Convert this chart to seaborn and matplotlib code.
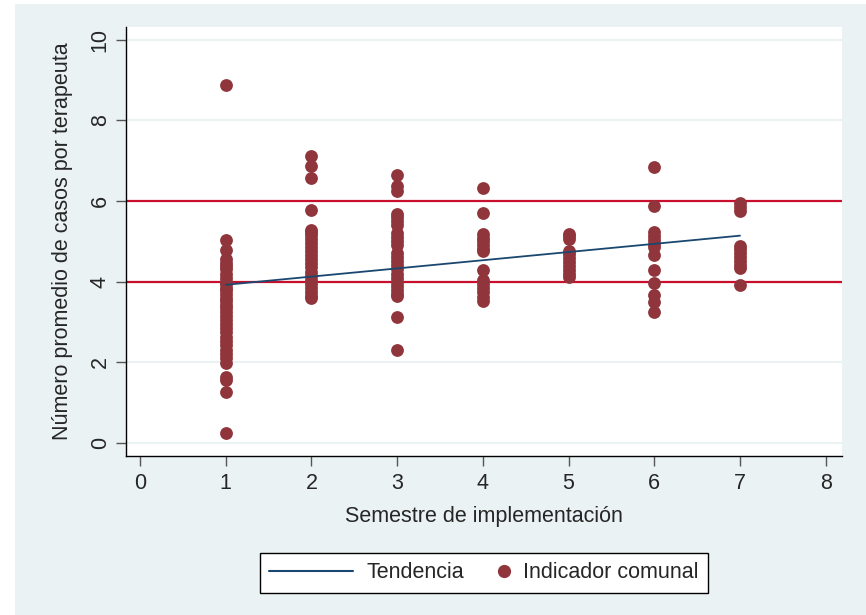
import matplotlib
matplotlib.use("Agg")
import matplotlib.pyplot as plt
import seaborn as sns
import pandas as pd
from matplotlib.lines import Line2D
from matplotlib.legend_handler import HandlerLine2D
from matplotlib.patches import Rectangle

# ---- data ----
semestres = [1, 2, 3, 4, 5, 6, 7]
sem1 = [8.88, 5.04, 4.79, 4.55, 4.45, 4.38, 4.30, 4.20, 4.08, 4.00, 3.93, 3.85, 3.78, 3.70,
        3.60, 3.52, 3.42, 3.35, 3.25, 3.15, 3.05, 2.95, 2.85, 2.75, 2.63, 2.52, 2.42, 2.30,
        2.20, 2.10, 1.98, 1.62, 1.55, 1.27, 0.23]
sem2 = [7.12, 6.88, 6.57, 5.77, 5.28, 5.22, 5.15, 5.05, 4.95, 4.85, 4.75, 4.65, 4.55, 4.45,
        4.35, 4.25, 4.15, 4.05, 3.95, 3.85, 3.75, 3.65, 3.58]
sem3 = [6.64, 6.37, 6.25, 5.68, 5.60, 5.50, 5.40, 5.20, 5.10, 5.00, 4.92, 4.70, 4.60, 4.50,
        4.40, 4.30, 4.20, 4.10, 4.00, 3.90, 3.80, 3.70, 3.65, 3.12, 2.29]
sem4 = [6.32, 5.70, 5.17, 5.08, 5.00, 4.90, 4.82, 4.75, 4.28, 4.03, 3.93, 3.83, 3.73, 3.62, 3.52]
sem5 = [5.18, 5.12, 5.05, 4.75, 4.68, 4.58, 4.48, 4.38, 4.28, 4.18, 4.12]
sem6 = [6.84, 5.88, 5.22, 5.12, 5.02, 4.93, 4.86, 4.67, 4.29, 3.96, 3.67, 3.50, 3.24]
sem7 = [5.96, 5.85, 5.76, 4.88, 4.80, 4.70, 4.60, 4.50, 4.42, 4.34, 3.92]
trend_x = [1, 7]
trend_y = [3.92, 5.14]
ref_levels = [4, 6]
x_ticks = [0, 1, 2, 3, 4, 5, 6, 7, 8]
y_ticks = [0, 2, 4, 6, 8, 10]

values = [sem1, sem2, sem3, sem4, sem5, sem6, sem7]
df = pd.DataFrame({
    "semestre": [s for s, vals in zip(semestres, values) for _ in vals],
    "valor": [v for vals in values for v in vals],
})
df_trend = pd.DataFrame({"semestre": trend_x, "valor": trend_y})

# ---- style ----
BG = "#EAF2F3"
NAVY = "#1A476F"
MAROON = "#90353B"
RED = "#C8102E"

sns.set_style("white")
plt.rcParams["font.family"] = ["Liberation Sans", "DejaVu Sans"]
FS = 15.5

fig = plt.figure(figsize=(8.66, 6.15), dpi=100, facecolor="white")
fig.patches.append(Rectangle((15 / 866, 0), 1, 1 - 4 / 615, transform=fig.transFigure,
                             facecolor=BG, edgecolor="none", zorder=-10))
ax = fig.add_axes([126 / 866, 1 - 456 / 615, (842 - 126) / 866, (456 - 27) / 615])
ax.set_facecolor("white")

for yv in y_ticks:
    ax.axhline(yv, color=BG, lw=1.5, zorder=0)
for lv in ref_levels:
    ax.axhline(lv, color=RED, lw=1.6, zorder=1)

sns.scatterplot(data=df, x="semestre", y="valor", ax=ax, color=MAROON, s=85,
                linewidth=0, zorder=3, legend=False)
sns.lineplot(data=df_trend, x="semestre", y="valor", ax=ax, color=NAVY, lw=1.3,
             zorder=4, legend=False)

ax.set_xlim(-0.163, 8.19)
ax.set_ylim(-0.33, 10.32)
ax.set_xticks(x_ticks)
ax.set_yticks(y_ticks)
ax.set_xticklabels([str(t) for t in x_ticks], fontsize=FS)
ax.set_yticklabels([str(t) for t in y_ticks], fontsize=FS, rotation=90, va="center")
ax.tick_params(axis="both", direction="out", length=7, width=1, color="#555555",
               left=True, bottom=True)
ax.tick_params(axis="x", pad=5)
ax.tick_params(axis="y", pad=4)

for side in ["top", "right"]:
    ax.spines[side].set_visible(False)
for side in ["left", "bottom"]:
    ax.spines[side].set_color("black")
    ax.spines[side].set_linewidth(1)

ax.set_xlabel("Semestre de implementación", fontsize=FS, labelpad=9)
ax.set_ylabel("Número promedio de casos por terapeuta", fontsize=FS, labelpad=12)


class RightMarker(HandlerLine2D):
    def get_xdata(self, legend, xdescent, ydescent, width, height, fontsize):
        xd = [-xdescent + width - 0.3 * fontsize]
        return xd, xd


h_line = Line2D([], [], color=NAVY, lw=1.5)
h_dot = Line2D([], [], color=MAROON, marker="o", markersize=8.5, lw=0)
leg = fig.legend([h_line, h_dot], ["Tendencia", "Indicador comunal"],
                 loc="center", bbox_to_anchor=(484 / 866, 1 - 573 / 615), ncol=2,
                 fontsize=FS, frameon=True, fancybox=False, edgecolor="black",
                 handlelength=3.9, handletextpad=0.6, columnspacing=-1.75,
                 borderpad=0.45, numpoints=1,
                 handler_map={h_dot: RightMarker(numpoints=1)})
leg.get_frame().set_linewidth(1)
leg.get_frame().set_facecolor("white")
leg.get_frame().set_alpha(1)

fig.savefig("out.png", dpi=100, facecolor=fig.get_facecolor())
